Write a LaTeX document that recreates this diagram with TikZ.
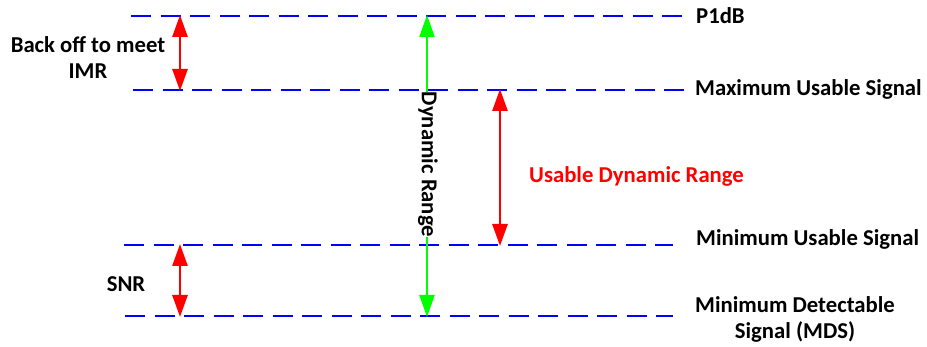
\documentclass[tikz,border=0pt]{standalone}
\usepackage{fontspec}
\setmainfont{Carlito}
\usetikzlibrary{arrows.meta}
\tikzset{
	level/.style={draw=blue, line width=2.2pt, dash pattern=on 20pt off 9.5pt},
	lbl/.style={font=\fontsize{22.7}{26}\selectfont\bfseries, inner sep=1pt},
	span/.style={draw=red, line width=2.8pt, {Triangle[length=22pt,width=15pt]}-{Triangle[length=22pt,width=15pt]}, shorten <=-1pt, shorten >=-1pt}
}
\begin{document}
\begin{tikzpicture}[x=1pt,y=-1pt]
		\useasboundingbox (0,0) rectangle (927,347);
		% Draw the levels
		\coordinate (p1a) at (131,16);  \coordinate (p1b) at (682,16);
		\coordinate (maxa) at (133,90); \coordinate (maxb) at (684,90);
		\coordinate (mina) at (124,245); \coordinate (minb) at (673,245);
		\coordinate (mdsa) at (125,316); \coordinate (mdsb) at (673,316);
		\path[level] (p1a) -- (p1b);
		\path[level] (maxa) -- (maxb);
		\path[level] (mina) -- (minb);
		\path[level] (mdsa) -- (mdsb);
		% Label the levels
		\node[lbl, anchor=west] (p1) at (695,16) {P1dB};
		\node[lbl, anchor=west] (max) at (694,89) {Maximum Usable Signal};
		\node[lbl, anchor=west] (min) at (695,239) {Minimum Usable Signal};
		\node[lbl, align=center] (mds) at (795,319) {Minimum Detectable\\Signal (MDS)};
		% Draw the ranges
		\coordinate (bt) at (180,16);  \coordinate (bb) at (180,90);
		\coordinate (st) at (180,245); \coordinate (sb) at (180,316);
		\coordinate (ut) at (500,90);  \coordinate (ub) at (500,245);
		\coordinate (dt) at (427,16);  \coordinate (db) at (427,316);
		\draw[span] (bt) -- (bb);
		\draw[span] (st) -- (sb);
		\draw[span] (ut) -- (ub);
		\draw[span, draw=green, line width=2.2pt] (dt) -- (db)
			node[pos=0.495, sloped, fill=white, lbl, inner sep=0pt, yshift=1pt] (dr) {Dynamic Range};
		% Label the ranges
		\node[lbl, align=center] (back) at (88,58) {Back off to meet\\IMR};
		\node[lbl] (snr) at (126,284) {SNR};
		\node[lbl, text=red, anchor=west] (usable) at (528,176) {Usable Dynamic Range};
	\end{tikzpicture}
\end{document}
